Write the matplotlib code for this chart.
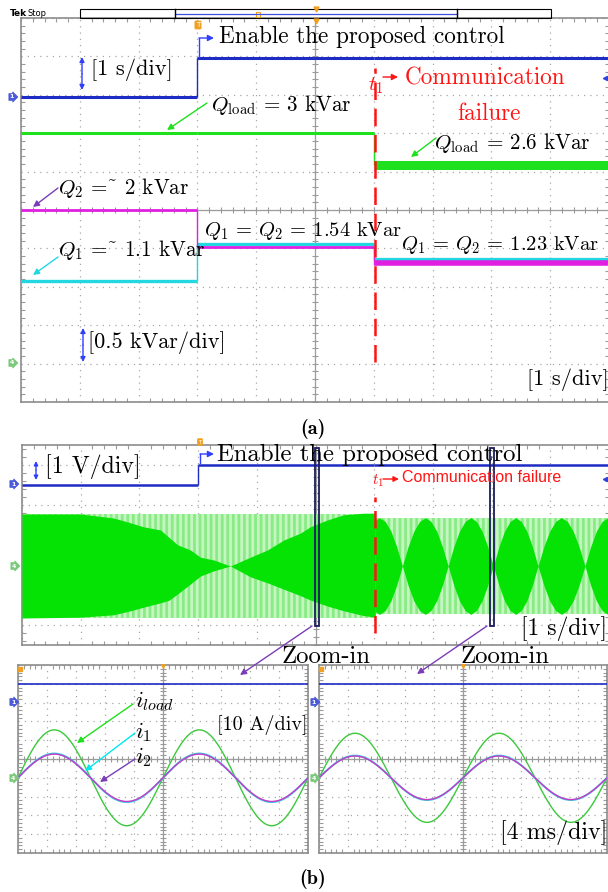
import numpy as np
import matplotlib.pyplot as plt
from matplotlib.patches import FancyArrowPatch, Rectangle
from matplotlib.lines import Line2D
from matplotlib.ticker import MultipleLocator
from matplotlib.transforms import Affine2D

plt.rcParams['font.family'] = ['cmr10', 'DejaVu Serif']
plt.rcParams['mathtext.fontset'] = 'cm'
plt.rcParams['axes.formatter.use_mathtext'] = True
plt.rcParams['hatch.linewidth'] = 2.0

W, H = 608, 892

# ---------------- data read off the scope captures ----------------
# (a) 1 s/div, 0.5 kVar/div; segments: before enable, enabled, after t1
t_seg = [0.0, 3.0, 6.0, 10.0]        # s
enable_v = [0.0, 1.0, 1.0]           # V
q_load = [3.0, 3.0, 2.58]            # kVar
q_1 = [1.07, 1.56, 1.34]             # kVar
q_2 = [2.0, 1.52, 1.31]              # kVar

# (b) envelope of the green trace before t1 [div]
env_t = [0.0, 1.0, 1.56, 1.85, 2.07, 2.36, 2.50, 2.65, 2.87, 3.04, 3.27, 3.55,
         3.89, 4.18, 4.46, 4.74, 4.91, 5.20, 5.48, 5.82, 6.02]
env_top = [1.30, 1.30, 1.20, 1.08, 0.98, 0.90, 0.72, 0.53, 0.40, 0.22, 0.15, 0.0,
           0.22, 0.40, 0.65, 0.82, 0.98, 1.15, 1.28, 1.32, 1.32]
env_bot = [1.30, 1.28, 1.22, 1.12, 1.03, 0.92, 0.86, 0.70, 0.45, 0.25, 0.12, 0.0,
           0.27, 0.42, 0.58, 0.74, 0.85, 1.00, 1.12, 1.24, 1.28]
# after t1: beating, nodes of the envelope [s] and lobe profile
node_t = [5.70, 6.48, 7.26, 8.03, 8.79, 9.59, 10.37]
lobe_peak = 1.21
lobe_shape = [0.0, 0.40, 0.72, 0.92, 1.0, 0.92, 0.72, 0.40, 0.0]
band_amp = [1.30, 1.21]              # light band before / after t1
t_fail = 6.02

# zoom windows in (b) [s] and zoomed currents, 4 ms/div, 10 A/div
zoom_at = [5.02, 8.01]
f_grid = 50.0                        # Hz
i_load_pk = [25.5, 23.7]             # A
i_1_pk = [12.9, 11.8]
i_2_pk = [12.6, 11.6]

# ---------------- colours ----------------
BLUE = '#1e2bc4'
GREEN = '#1ee01e'
MAG = '#e020e0'
CYAN = '#22d6e2'
PURPLE = '#7a3db8'
RED = '#ff1414'
ARROWBLUE = '#2f3fff'

fig = plt.figure(figsize=(W / 100, H / 100), dpi=100)
pix = Affine2D().scale(1 / W, -1 / H).translate(0, 1) + fig.transFigure


def scope_axes(l, t, r, b, xdiv, ny):
    ax = fig.add_axes([l / W, 1 - b / H, (r - l) / W, (b - t) / H])
    ax.set_xlim(0, 10 * xdiv)
    ax.set_ylim(-ny / 2, ny / 2)
    ax.set_xticks(np.arange(0, 11) * xdiv)
    ax.set_yticks(np.arange(-int(ny / 2), int(ny / 2) + 1))
    ax.xaxis.set_minor_locator(MultipleLocator(xdiv / 5))
    ax.yaxis.set_minor_locator(MultipleLocator(0.2))
    ax.tick_params(which='both', labelleft=False, labelbottom=False)
    ax.tick_params(which='major', length=0)
    ax.tick_params(which='minor', direction='in', length=3, color='#9a9a9a',
                   top=True, right=True, width=0.8)
    ax.grid(True, ls=(0, (1, 4)), color='#a8a8a8', lw=0.9)
    for s in ax.spines.values():
        s.set_color('#8c8c8c')
        s.set_linewidth(1.2)
    ax.axhline(0, color='#9a9a9a', lw=0.9, zorder=1)
    ax.axvline(5 * xdiv, color='#9a9a9a', lw=0.9, zorder=1)
    mx = np.arange(0, 10 * xdiv, xdiv / 5)
    ax.plot(mx, np.zeros_like(mx), ls='none', marker='|', ms=4, color='#9a9a9a', mew=0.8)
    my = np.arange(-ny / 2, ny / 2, 0.2)
    ax.plot(np.full_like(my, 5 * xdiv), my, ls='none', marker='_', ms=4, color='#9a9a9a', mew=0.8)
    return ax


def txt(x, y, s, size=15, color='black', ha='left', **kw):
    fig.text(x, y, s, transform=pix, fontsize=size, color=color, ha=ha, va='center', **kw)


def arrow(p0, p1, color, style='-|>', lw=1.0, ms=9):
    fig.add_artist(FancyArrowPatch(p0, p1, transform=pix, arrowstyle=style,
                                   mutation_scale=ms, color=color, lw=lw,
                                   shrinkA=0, shrinkB=0))


def line(xs, ys, color, lw=1.0, ls='-'):
    fig.add_artist(Line2D(xs, ys, transform=pix, color=color, lw=lw, ls=ls))


def ch_marker(x, y, color, n):
    fig.text(x, y, n, transform=pix, fontsize=4.5, color='white', ha='center', va='center',
             family='DejaVu Sans', fontweight='bold',
             bbox=dict(boxstyle='rarrow,pad=0.15', fc=color, ec=color, lw=0.5))


def step_trace(ax, levels, offset, per_div, color, widths, z):
    y = [offset + v / per_div for v in levels]
    for i in range(len(levels)):
        ax.hlines(y[i], t_seg[i], t_seg[i + 1], color=color, lw=widths[i], zorder=z)
        if i > 0 and y[i] != y[i - 1]:
            ax.vlines(t_seg[i], y[i - 1], y[i], color=color, lw=1.0, zorder=z)


# ======================= panel (a) =======================
axa = scope_axes(21, 18, 609, 402, 1.0, 10)
step_trace(axa, q_load, -4.0, 0.5, GREEN, [2.2, 2.2, 6.5], 3)
step_trace(axa, q_1, -4.0, 0.5, CYAN, [2.4, 2.4, 4.5], 4)
step_trace(axa, q_2, -4.0, 0.5, MAG, [2.0, 2.0, 4.0], 5)
step_trace(axa, enable_v, 2.95, 1.0, BLUE, [2.2, 2.2, 2.2], 6)
axa.vlines(t_fail, -3.97, 3.7, color=RED, lw=1.8, linestyles=(0, (7, 3.5)), zorder=7)

# Tek header
txt(10, 13, 'Tek', size=6.5, family='DejaVu Sans', fontweight='bold')
txt(27, 13, 'Stop', size=6, family='DejaVu Sans')
fig.add_artist(Rectangle((80, 9), 471, 9, transform=pix, fill=False, ec='black', lw=0.8))
line([175, 457], [14, 14], '#4050e0', lw=0.9)
line([175, 175], [9, 18], 'black', lw=1.0)
line([457, 457], [9, 18], 'black', lw=1.0)
fig.add_artist(Rectangle((256, 12), 4, 5, transform=pix, fill=False, ec='#f0a020', lw=0.8))
fig.add_artist(Line2D([316], [9], transform=pix, marker='v', ms=3.5, color='#f0a020'))
fig.add_artist(Line2D([316], [20.5], transform=pix, marker='v', ms=3.5, color='#f0a020'))
txt(198, 25, 'T', size=5, color='white', ha='center', family='DejaVu Sans',
    bbox=dict(boxstyle='round,pad=0.1', fc='#f0a020', ec='#f0a020'))

ch_marker(12, 97, '#4a5ad8', '1')
ch_marker(12, 363, '#7cc87c', '4')
fig.add_artist(Line2D([605], [78], transform=pix, marker='<', ms=3, color='#3040e0'))

line([199, 199], [57, 38], ARROWBLUE, lw=1.0)
arrow((199, 38), (214, 38), ARROWBLUE)
txt(219, 37, 'Enable the proposed control', size=16.7)
arrow((82, 74), (82, 57), ARROWBLUE, ms=7)
arrow((82, 74), (82, 90), ARROWBLUE, ms=7)
txt(91, 70, '[1 s/div]', size=16.2)

txt(368, 86, r'$t_1$', size=15, color=RED)
arrow((383, 77), (398, 77), RED)
txt(405, 78, 'Communication', size=16.7, color=RED)
txt(489, 114, 'failure', size=16.7, color=RED, ha='center')

txt(211, 105, r'$Q_{\rm load}$ = 3 kVar', size=15.2)
arrow((207, 103), (167, 130), GREEN)
txt(434, 143, r'$Q_{\rm load}$ = 2.6 kVar', size=15.2)
arrow((436, 138), (411, 157), GREEN)
txt(58, 188, r'$Q_2$ =~ 2 kVar', size=15.2)
arrow((58, 188), (33, 207), PURPLE)
txt(204, 231, r'$Q_1$ = $Q_2$ = 1.54 kVar', size=14.8)
txt(58, 250, r'$Q_1$ =~ 1.1 kVar', size=15.2)
arrow((58, 257), (33, 275), CYAN)
txt(401, 245, r'$Q_1$ = $Q_2$ = 1.23 kVar', size=14.8)

arrow((83, 345), (83, 328), ARROWBLUE, ms=7)
arrow((83, 345), (83, 362), ARROWBLUE, ms=7)
txt(88, 343, '[0.5 kVar/div]', size=16)
txt(527, 380, '[1 s/div]', size=16.2)
txt(313, 429, '(a)', size=14.5, ha='center', family='cmb10')

# ======================= panel (b) =======================
axb = scope_axes(22, 445, 609, 645, 1.0, 5)
zero_b = -0.525
axb.fill_between([0, t_fail], zero_b - band_amp[0], zero_b + band_amp[0],
                 facecolor='#8aeb86', edgecolor='#c4f7c0', hatch='|||', lw=0, zorder=2)
axb.fill_between([t_fail, 10], zero_b - band_amp[1], zero_b + band_amp[1],
                 facecolor='#8aeb86', edgecolor='#c4f7c0', hatch='|||', lw=0, zorder=2)
axb.fill_between(env_t, zero_b - np.array(env_bot), zero_b + np.array(env_top),
                 color='#05e305', lw=0, zorder=3)
lt, la = [], []
for n0, n1 in zip(node_t[:-1], node_t[1:]):
    lt += list(np.linspace(n0, n1, len(lobe_shape)))
    la += [lobe_peak * s for s in lobe_shape]
lt, la = np.array(lt), np.array(la)
keep = (lt >= t_fail) & (lt <= 10)
pt = np.concatenate([[t_fail], lt[keep], [10]])
pa = np.concatenate([[np.interp(t_fail, lt, la)], la[keep], [np.interp(10, lt, la)]])
axb.fill_between(pt, zero_b - pa, zero_b + pa, color='#05e305', lw=0, zorder=3)

step_trace(axb, enable_v, 1.5, 2.0, BLUE, [1.8, 1.8, 1.8], 6)
axb.vlines(t_fail, -2.2, 1.2, color=RED, lw=1.8, linestyles=(0, (7, 3.5)), zorder=7)
for z in zoom_at:
    axb.add_patch(Rectangle((z - 0.035, -2.03), 0.07, 4.45, fill=False,
                            ec='#1c1c5c', lw=1.3, zorder=8))

ch_marker(13, 484, '#4a5ad8', '1')
ch_marker(14, 566, '#7cc87c', '4')
fig.add_artist(Line2D([605], [479], transform=pix, marker='<', ms=3, color='#3040e0'))
txt(200, 442, 'T', size=4, color='white', ha='center', family='DejaVu Sans',
    bbox=dict(boxstyle='round,pad=0.1', fc='#f0a020', ec='#f0a020'))

arrow((36, 470), (36, 461), ARROWBLUE, ms=6)
arrow((36, 470), (36, 480), ARROWBLUE, ms=6)
txt(45, 467, '[1 V/div]', size=17.2)
line([200, 200], [463, 454], ARROWBLUE, lw=1.0)
arrow((200, 454), (214, 454), ARROWBLUE)
txt(217, 455, 'Enable the proposed control', size=17.8)
txt(372, 481, r'$t_1$', size=11, color=RED)
arrow((383, 479), (399, 479), RED, ms=8)
txt(402, 478, 'Communication failure', size=11.5, color=RED, family='Liberation Sans')
txt(521, 629, '[1 s/div]', size=17)

arrow((312, 626), (240, 675), PURPLE)
arrow((487, 626), (417, 674), PURPLE)
txt(282, 657, 'Zoom-in', size=17.8)
txt(461, 657, 'Zoom-in', size=17.8)

# ======================= zoom-in panels =======================
boxes = [(18, 665, 308, 853), (319, 665, 607, 853)]
for k, (l, t, r, b) in enumerate(boxes):
    ax = scope_axes(l, t, r, b, 4.0, 10)
    tm = np.linspace(0, 40, 600)
    ph = np.sin(2 * np.pi * f_grid * tm / 1000.0)
    ax.plot(tm, -1.0 + i_load_pk[k] * ph / 10.0, color='#3cc83c', lw=1.0, zorder=3)
    ax.plot(tm, -1.0 + i_1_pk[k] * ph / 10.0, color='#35c8e0', lw=1.4, zorder=4)
    ax.plot(tm, -1.0 + i_2_pk[k] * ph / 10.0, color='#c83cc8', lw=1.0, zorder=5)
    ax.plot([0, 40], [3.0 + enable_v[-1], 3.0 + enable_v[-1]], color=BLUE, lw=1.2, zorder=6)
    ch_marker(l - 5, 702, '#4a5ad8', '1')
    ch_marker(l - 5, 778, '#7cc87c', '4')
    fig.add_artist(Line2D([l + 2], [669], transform=pix, marker='s', ms=2.5, color='#f0a020'))
    fig.add_artist(Line2D([(l + r) / 2], [666], transform=pix, marker='v', ms=2.5, color='#f0a020'))

txt(135, 701, r'$i_{load}$', size=16.5)
txt(135, 732, r'$i_1$', size=16.5)
txt(135, 757, r'$i_2$', size=16.5)
arrow((133, 704), (77, 743), GREEN)
arrow((135, 733), (85, 771), '#00e8f0')
arrow((135, 759), (100, 782), PURPLE)
txt(217, 725, '[10 A/div]', size=14.5)
txt(500, 833, '[4 ms/div]', size=17.3)
txt(313, 879, '(b)', size=14.5, ha='center', family='cmb10')

fig.savefig('out.png', dpi=100)
